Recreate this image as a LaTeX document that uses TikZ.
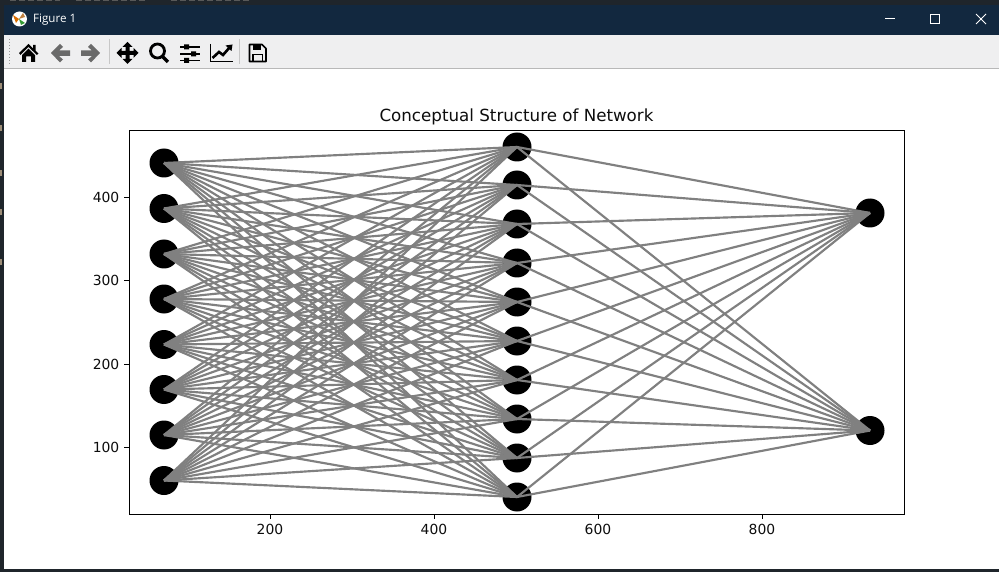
\documentclass[tikz,border=0pt]{standalone}
\usepackage{fontspec}
\setmainfont{DejaVu Sans}
\newfontfamily\winfont{Open Sans}
\definecolor{titlebar}{HTML}{12283F}
\definecolor{darkband}{HTML}{1F252B}
\definecolor{toolbar}{HTML}{EFEFF0}
\definecolor{iconGray}{HTML}{6A6A6A}
\definecolor{edgeGray}{HTML}{808080}
\definecolor{tan}{HTML}{9C8D78}
\tikzset{
  x=1pt,y=-1pt,
  neuron/.style={circle,fill=black,draw=none,minimum size=29pt,inner sep=0pt},
  edgeline/.style={edgeGray,line width=2.15pt},
  axisline/.style={black,line width=0.95pt},
  ticklabel/.style={font=\fontsize{13.9}{14}\selectfont,inner sep=0pt,text=black!95},
  plottitle/.style={font=\fontsize{16.7}{17}\selectfont,inner sep=0pt,text=black!95},
  winbtn/.style={white,line width=1pt},
}
\begin{document}
\begin{tikzpicture}
\useasboundingbox (0,0) rectangle (999,572);
% window chrome
\fill[darkband] (0,0) rectangle (999,572);
\fill[white] (4,69) rectangle (999,569);
\fill[titlebar] (4,5) rectangle (999,35);
\fill[toolbar] (4,35) rectangle (999,68);
\fill[black!28] (4,68) rectangle (999,69);
\foreach \yy in {86,128,173,212,262} \fill[tan] (0,\yy-3) rectangle (2,\yy+3);
\draw[black!65,line width=1.2pt,dash pattern=on 6pt off 3pt] (10,0.6) -- (60,0.6);
\draw[black!65,line width=1.2pt,dash pattern=on 6pt off 3pt] (76,0.6) -- (146,0.6);
\draw[black!65,line width=1.2pt,dash pattern=on 6pt off 3pt] (171,0.6) -- (249,0.6);
% title bar
\node[circle,fill=white,minimum size=15pt,inner sep=0pt] (icon) at (19.5,19) {};
\fill[orange!85!black] (19,19) -- (13,15) -- (16,23) -- cycle;
\fill[green!50!black!80] (19,19) -- (25,23) -- (21,25) -- cycle;
\fill[brown] (19,19) -- (23,13) -- (25,17) -- cycle;
\node[font=\winfont\fontsize{11.6}{12}\selectfont,text=white,inner sep=0pt,anchor=west] (wintitle) at (33,19.5) {Figure 1};
\draw[winbtn] (885,19) -- (895,19);
\draw[winbtn] (930.5,14.5) rectangle (939.5,23.5);
\draw[winbtn] (976,14) -- (986,24) (986,14) -- (976,24);
% toolbar grip and separators
\draw[black!40,line width=1pt,dash pattern=on 1pt off 2pt] (9,39) -- (9,65);
\draw[black!22,line width=1pt] (109.5,39) -- (109.5,64);
\draw[black!22,line width=1pt] (239.5,39) -- (239.5,64);
% home
\fill[black] (19,53) -- (28.5,44) -- (33,48.3) -- (33,45) -- (35.5,45) -- (35.5,50.7) -- (38.5,53.5) -- (37,55) -- (28.5,47) -- (20.5,55) -- cycle;
\fill[black] (22,55) -- (28.5,48.6) -- (35,55) -- (35,62) -- (31,62) -- (31,56.5) -- (26,56.5) -- (26,62) -- (22,62) -- cycle;
% back
\fill[iconGray] (51,53) -- (60,44) -- (63,47) -- (59,50.5) -- (70,50.5) -- (70,56) -- (59,56) -- (63,59.5) -- (60,62.5) -- cycle;
% forward
\fill[iconGray] (100,53) -- (91,44) -- (88,47) -- (92,50.5) -- (81,50.5) -- (81,56) -- (92,56) -- (88,59.5) -- (91,62.5) -- cycle;
% move
\fill[black] (127.5,42) -- (132.5,47) -- (129.5,47) -- (129.5,51) -- (133.5,51) -- (133.5,48) -- (138.5,53) -- (133.5,58) -- (133.5,55) -- (129.5,55) -- (129.5,59) -- (132.5,59) -- (127.5,64) -- (122.5,59) -- (125.5,59) -- (125.5,55) -- (121.5,55) -- (121.5,58) -- (116.5,53) -- (121.5,48) -- (121.5,51) -- (125.5,51) -- (125.5,47) -- (122.5,47) -- cycle;
% zoom
\draw[black,line width=2.8pt] (157.5,51) circle (7);
\draw[black,line width=3.4pt] (162.5,56.5) -- (168,62);
% sliders
\draw[black,line width=1.7pt] (180,47) -- (200,47) (180,54) -- (200,54) (180,60.5) -- (200,60.5);
\fill[black] (184,44.5) rectangle (189,49.5) (191,51.5) rectangle (196,56.5) (184,58) rectangle (189,63);
% chart
\draw[black,line width=1.4pt] (210.5,44) -- (210.5,61.5) -- (233,61.5);
\draw[black,line width=2.6pt] (212.5,58) -- (219,52) -- (223,55) -- (230,47);
\fill[black] (225.5,45.5) -- (232.5,44.5) -- (231.5,51) -- cycle;
% save
\draw[black,line width=1.6pt,line join=round] (249.5,44.5) -- (262,44.5) -- (266,48.5) -- (266,61.5) -- (249.5,61.5) -- cycle;
\fill[black] (252.5,44.5) rectangle (261,50.5);
\draw[black,line width=1.4pt] (253,61) -- (253,54.5) -- (262.5,54.5) -- (262.5,61);
% axes frame
\coordinate (axNW) at (129,130);
\coordinate (axSE) at (904,514);
% neurons
\foreach \i/\yy in {1/163,2/208.5,3/254,4/299,5/344.5,6/389.5,7/435,8/480.5}
  \node[neuron] (L\i) at (164,\yy) {};
\foreach \i/\yy in {1/147,2/185,3/224,4/263,5/302,6/341,7/380,8/419,9/458,10/497}
  \node[neuron] (M\i) at (517,\yy) {};
\foreach \i/\yy in {1/213,2/430.5}
  \node[neuron] (R\i) at (870,\yy) {};
% connectors
\foreach \i in {1,...,8}
  \foreach \j in {1,...,10}
    \draw[edgeline] (L\i.center) -- (M\j.center);
\foreach \j in {1,...,10}
  \foreach \k in {1,2}
    \draw[edgeline] (M\j.center) -- (R\k.center);
\draw[axisline] (axNW) rectangle (axSE);
% ticks
\foreach \xx/\lab in {270/200,434/400,598/600,762/800}{
  \draw[axisline] (\xx,514) -- (\xx,519);
  \node[ticklabel,anchor=north] (xt\lab) at (\xx,524) {\lab};
}
\foreach \yy/\lab in {447/100,364/200,280/300,197/400}{
  \draw[axisline] (129,\yy) -- (124,\yy);
  \node[ticklabel,anchor=east] (yt\lab) at (119.5,\yy) {\lab};
}
\node[plottitle,anchor=base] (ptitle) at (516.5,121.5) {Conceptual Structure of Network};
\end{tikzpicture}
\end{document}
